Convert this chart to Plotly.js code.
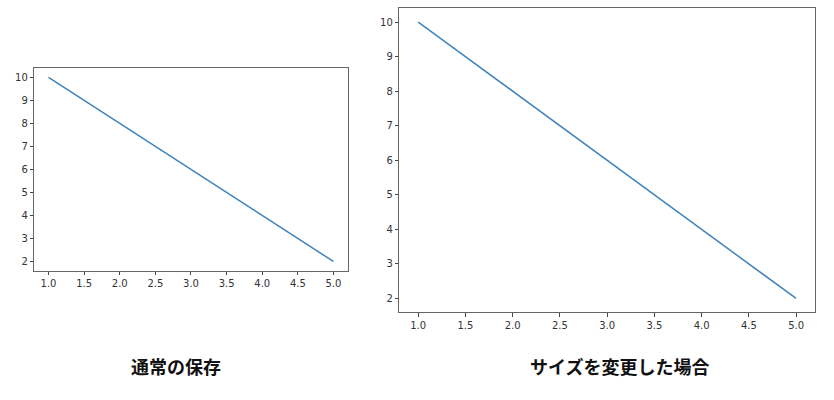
<!DOCTYPE html>
<html>
<head>
<meta charset="utf-8">
<script src="https://cdn.plot.ly/plotly-3.0.1.min.js"></script>
<style>
  html, body { margin: 0; padding: 0; background: #fff; }
  #chart { width: 834px; height: 400px; }
</style>
</head>
<body>
<div id="chart"></div>
<script>
// same data is plotted twice, once per saved size
var xValues = [1, 2, 3, 4, 5];
var yValues = [10, 8, 6, 4, 2];
var captions = ["通常の保存", "サイズを変更した場合"];

var lineColor = "#3f83bb";
var tickFont = { family: "DejaVu Sans", size: 10, color: "#333" };

function makeX(domain, anchor) {
    return {
        domain: domain,
        anchor: anchor,
        range: [0.8, 5.2],
        tick0: 1,
        dtick: 0.5,
        tickformat: ".1f",
        ticks: "outside",
        ticklen: 3.5,
        tickcolor: "#444",
        tickfont: tickFont,
        showgrid: false,
        zeroline: false,
        showline: true,
        mirror: true,
        linecolor: "#666",
        linewidth: 1
    };
}

function makeY(domain, anchor) {
    return {
        domain: domain,
        anchor: anchor,
        range: [1.6, 10.4],
        tick0: 2,
        dtick: 1,
        ticks: "outside",
        ticklen: 3.5,
        tickcolor: "#444",
        tickfont: tickFont,
        showgrid: false,
        zeroline: false,
        showline: true,
        mirror: true,
        linecolor: "#666",
        linewidth: 1
    };
}

var dataArray = [
    {
        type: "scatter",
        mode: "lines",
        x: xValues,
        y: yValues,
        xaxis: "x",
        yaxis: "y",
        line: { color: lineColor, width: 1.5 }
    },
    {
        type: "scatter",
        mode: "lines",
        x: xValues,
        y: yValues,
        xaxis: "x2",
        yaxis: "y2",
        line: { color: lineColor, width: 1.5 }
    }
];

var layout = {
    width: 834,
    height: 400,
    margin: { l: 0, r: 0, t: 0, b: 0 },
    paper_bgcolor: "#fff",
    plot_bgcolor: "#fff",
    showlegend: false,
    xaxis: makeX([0.0411, 0.4169], "y"),
    yaxis: makeY([0.3233, 0.8293], "x"),
    xaxis2: makeX([0.4788, 0.9772], "y2"),
    yaxis2: makeY([0.2193, 0.9793], "x2"),
    annotations: [
        {
            text: "<b>" + captions[0] + "</b>",
            xref: "paper", yref: "paper",
            x: 175.5 / 834, y: (400 - 366) / 400,
            xanchor: "center", yanchor: "middle",
            showarrow: false,
            font: { family: "Noto Sans CJK JP", size: 18, color: "#111" }
        },
        {
            text: "<b>" + captions[1] + "</b>",
            xref: "paper", yref: "paper",
            x: 619 / 834, y: (400 - 366) / 400,
            xanchor: "center", yanchor: "middle",
            showarrow: false,
            font: { family: "Noto Sans CJK JP", size: 18, color: "#111" }
        }
    ]
};

Plotly.newPlot("chart", dataArray, layout, { displayModeBar: false, staticPlot: true });
</script>
</body>
</html>
